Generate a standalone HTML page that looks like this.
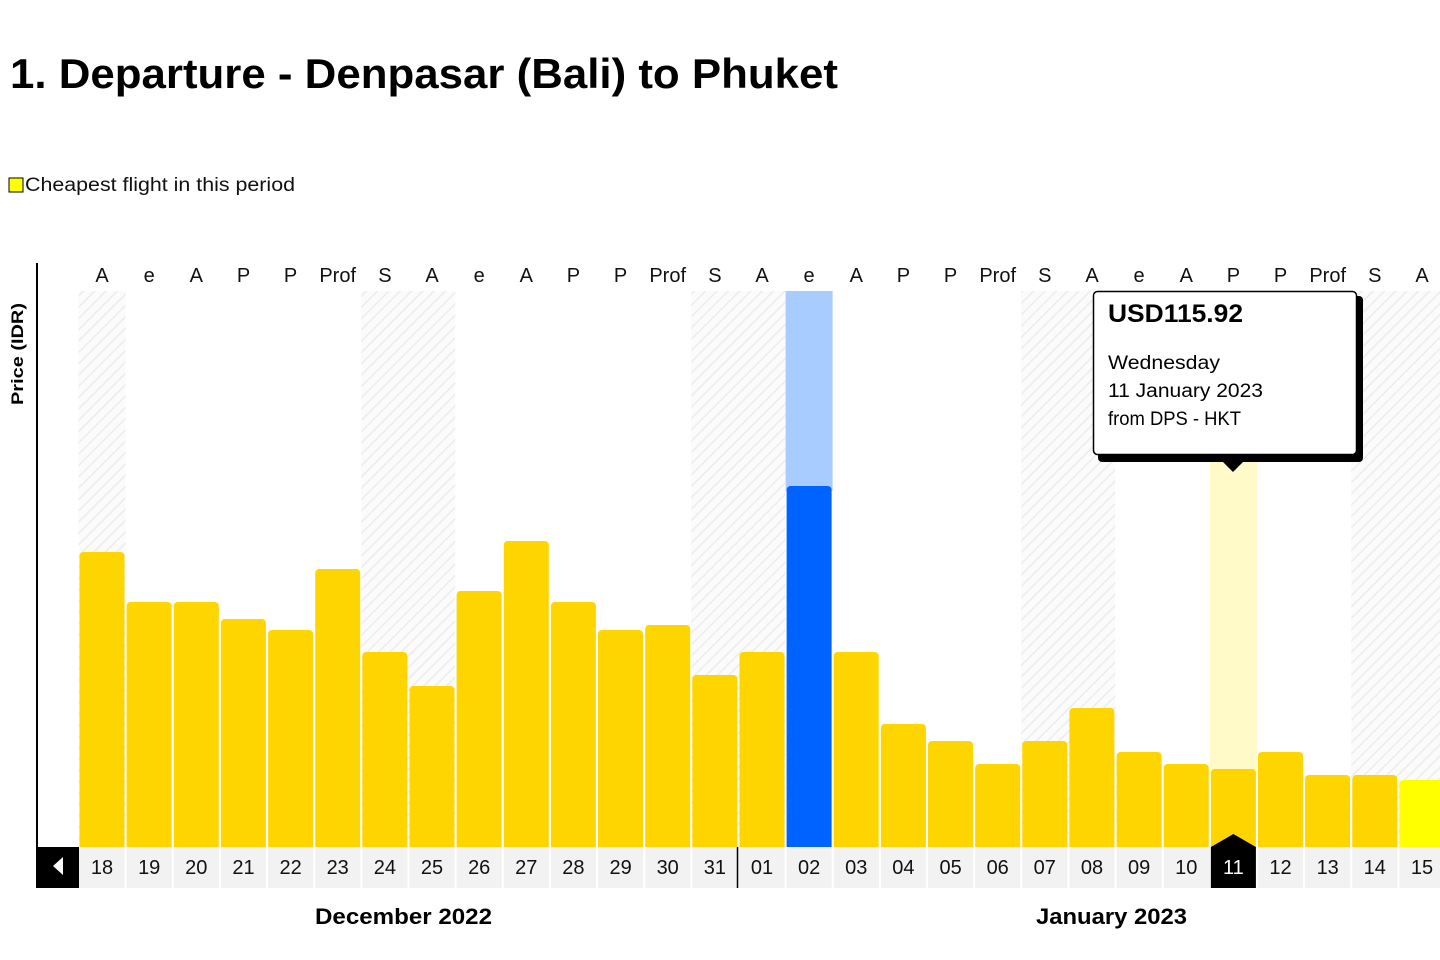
<!DOCTYPE html>
<html><head><meta charset="utf-8"><style>
html,body{margin:0;padding:0;background:#fff;width:1440px;height:960px;overflow:hidden}
svg{display:block;font-family:"Liberation Sans",sans-serif}
</style></head><body>
<svg width="1440" height="960" xmlns="http://www.w3.org/2000/svg">
<defs>
<pattern id="h" width="8" height="8" patternUnits="userSpaceOnUse" patternTransform="rotate(45)">
<rect width="8" height="8" fill="#fbfbfb"/><line x1="0" y1="0" x2="0" y2="8" stroke="#ececec" stroke-width="3"/></pattern>
</defs>
<text x="10" y="88" font-size="42" font-weight="bold" fill="#000" textLength="828" lengthAdjust="spacingAndGlyphs">1. Departure - Denpasar (Bali) to Phuket</text>
<rect x="9" y="178" width="14" height="14" fill="#ffff00" stroke="#000" stroke-width="1"/>
<text x="25" y="191" font-size="19" fill="#111" textLength="270" lengthAdjust="spacingAndGlyphs">Cheapest flight in this period</text>
<line x1="37" y1="263" x2="37" y2="888" stroke="#000" stroke-width="2"/>
<text transform="translate(23,354) rotate(-90)" font-size="17" font-weight="bold" text-anchor="middle" textLength="102" lengthAdjust="spacingAndGlyphs">Price (IDR)</text>
<!-- hatch -->
<rect x="78.5" y="291" width="47" height="556" fill="url(#h)"/>
<rect x="361.3" y="291" width="94" height="556" fill="url(#h)"/>
<rect x="691.3" y="291" width="94" height="556" fill="url(#h)"/>
<rect x="1021.3" y="291" width="94" height="556" fill="url(#h)"/>
<rect x="1351.3" y="291" width="89" height="556" fill="url(#h)"/>
<rect x="785.6" y="291" width="47" height="200" fill="#a8ccff"/>
<rect x="1209.9" y="460" width="47" height="315" fill="#fffac8"/>
<g fill="#ffd500">
<rect x="79.5" y="552" width="45" height="300" rx="4"/>
<rect x="126.6" y="602" width="45" height="250" rx="4"/>
<rect x="173.8" y="602" width="45" height="250" rx="4"/>
<rect x="220.9" y="619" width="45" height="233" rx="4"/>
<rect x="268.1" y="630" width="45" height="222" rx="4"/>
<rect x="315.2" y="569" width="45" height="283" rx="4"/>
<rect x="362.3" y="652" width="45" height="200" rx="4"/>
<rect x="409.5" y="686" width="45" height="166" rx="4"/>
<rect x="456.6" y="591" width="45" height="261" rx="4"/>
<rect x="503.8" y="541" width="45" height="311" rx="4"/>
<rect x="550.9" y="602" width="45" height="250" rx="4"/>
<rect x="598.0" y="630" width="45" height="222" rx="4"/>
<rect x="645.2" y="625" width="45" height="227" rx="4"/>
<rect x="692.3" y="675" width="45" height="177" rx="4"/>
<rect x="739.5" y="652" width="45" height="200" rx="4"/>
<rect x="833.7" y="652" width="45" height="200" rx="4"/>
<rect x="880.9" y="724" width="45" height="128" rx="4"/>
<rect x="928.0" y="741" width="45" height="111" rx="4"/>
<rect x="975.2" y="764" width="45" height="88" rx="4"/>
<rect x="1022.3" y="741" width="45" height="111" rx="4"/>
<rect x="1069.4" y="708" width="45" height="144" rx="4"/>
<rect x="1116.6" y="752" width="45" height="100" rx="4"/>
<rect x="1163.7" y="764" width="45" height="88" rx="4"/>
<rect x="1210.9" y="769" width="45" height="83" rx="4"/>
<rect x="1258.0" y="752" width="45" height="100" rx="4"/>
<rect x="1305.1" y="775" width="45" height="77" rx="4"/>
<rect x="1352.3" y="775" width="45" height="77" rx="4"/>
</g>
<rect x="1399.4" y="780" width="45" height="72" rx="4" fill="#ffff00"/>
<rect x="786.6" y="486" width="45" height="366" rx="4" fill="#0062ff"/>
<!-- date row -->
<rect x="79" y="847" width="1361" height="41" fill="#f2f2f2"/>
<g stroke="#fff" stroke-width="2">
<line x1="125.6" y1="847" x2="125.6" y2="888"/><line x1="172.8" y1="847" x2="172.8" y2="888"/><line x1="219.9" y1="847" x2="219.9" y2="888"/><line x1="267.1" y1="847" x2="267.1" y2="888"/><line x1="314.2" y1="847" x2="314.2" y2="888"/><line x1="361.3" y1="847" x2="361.3" y2="888"/><line x1="408.5" y1="847" x2="408.5" y2="888"/><line x1="455.6" y1="847" x2="455.6" y2="888"/><line x1="502.8" y1="847" x2="502.8" y2="888"/><line x1="549.9" y1="847" x2="549.9" y2="888"/><line x1="597" y1="847" x2="597" y2="888"/><line x1="644.2" y1="847" x2="644.2" y2="888"/><line x1="691.3" y1="847" x2="691.3" y2="888"/><line x1="785.6" y1="847" x2="785.6" y2="888"/><line x1="832.7" y1="847" x2="832.7" y2="888"/><line x1="879.9" y1="847" x2="879.9" y2="888"/><line x1="927" y1="847" x2="927" y2="888"/><line x1="974.2" y1="847" x2="974.2" y2="888"/><line x1="1021.3" y1="847" x2="1021.3" y2="888"/><line x1="1068.4" y1="847" x2="1068.4" y2="888"/><line x1="1115.6" y1="847" x2="1115.6" y2="888"/><line x1="1162.7" y1="847" x2="1162.7" y2="888"/><line x1="1257" y1="847" x2="1257" y2="888"/><line x1="1304.1" y1="847" x2="1304.1" y2="888"/><line x1="1351.3" y1="847" x2="1351.3" y2="888"/><line x1="1398.4" y1="847" x2="1398.4" y2="888"/>
</g>
<line x1="737.5" y1="847" x2="737.5" y2="888" stroke="#000" stroke-width="1.5"/>
<rect x="37" y="847" width="42" height="41" fill="#000"/>
<polygon points="53,866 63,857 63,875" fill="#fff"/>
<rect x="1210.9" y="847" width="45" height="41" fill="#000"/>
<polygon points="1210.9,847 1233.4,834 1255.9,847" fill="#000"/>
<g font-size="20" text-anchor="middle" fill="#111">
<text x="102" y="874">18</text><text x="149.2" y="874">19</text><text x="196.3" y="874">20</text><text x="243.5" y="874">21</text><text x="290.6" y="874">22</text><text x="337.7" y="874">23</text><text x="384.9" y="874">24</text><text x="432" y="874">25</text><text x="479.2" y="874">26</text><text x="526.3" y="874">27</text><text x="573.4" y="874">28</text><text x="620.6" y="874">29</text><text x="667.7" y="874">30</text><text x="714.9" y="874">31</text><text x="762" y="874">01</text><text x="809.1" y="874">02</text><text x="856.3" y="874">03</text><text x="903.4" y="874">04</text><text x="950.6" y="874">05</text><text x="997.7" y="874">06</text><text x="1044.8" y="874">07</text><text x="1092" y="874">08</text><text x="1139.1" y="874">09</text><text x="1186.3" y="874">10</text><text x="1233.4" y="874" fill="#fff">11</text><text x="1280.5" y="874">12</text><text x="1327.7" y="874">13</text><text x="1374.8" y="874">14</text><text x="1422" y="874">15</text>
</g>
<g font-size="20" text-anchor="middle" fill="#111">
<text x="102" y="282">A</text><text x="149.2" y="282">e</text><text x="196.3" y="282">A</text><text x="243.5" y="282">P</text><text x="290.6" y="282">P</text><text x="337.7" y="282">Prof</text><text x="384.9" y="282">S</text><text x="432" y="282">A</text><text x="479.2" y="282">e</text><text x="526.3" y="282">A</text><text x="573.4" y="282">P</text><text x="620.6" y="282">P</text><text x="667.7" y="282">Prof</text><text x="714.9" y="282">S</text><text x="762" y="282">A</text><text x="809.1" y="282">e</text><text x="856.3" y="282">A</text><text x="903.4" y="282">P</text><text x="950.6" y="282">P</text><text x="997.7" y="282">Prof</text><text x="1044.8" y="282">S</text><text x="1092" y="282">A</text><text x="1139.1" y="282">e</text><text x="1186.3" y="282">A</text><text x="1233.4" y="282">P</text><text x="1280.5" y="282">P</text><text x="1327.7" y="282">Prof</text><text x="1374.8" y="282">S</text><text x="1422" y="282">A</text>
</g>
<text x="315" y="924" font-size="22" font-weight="bold" textLength="177" lengthAdjust="spacingAndGlyphs">December 2022</text>
<text x="1036" y="924" font-size="22" font-weight="bold" textLength="151" lengthAdjust="spacingAndGlyphs">January 2023</text>
<!-- tooltip -->
<rect x="1098" y="296" width="265" height="166" rx="4" fill="#000"/>
<polygon points="1221,460 1233,472 1245,460" fill="#000"/>
<rect x="1093.5" y="291.5" width="263" height="163" rx="4" fill="#fff" stroke="#000" stroke-width="1.5"/>
<text x="1108" y="322" font-size="25" font-weight="bold" textLength="135" lengthAdjust="spacingAndGlyphs">USD115.92</text>
<text x="1108" y="369" font-size="19" textLength="112" lengthAdjust="spacingAndGlyphs">Wednesday</text>
<text x="1108" y="397" font-size="19" textLength="155" lengthAdjust="spacingAndGlyphs">11 January 2023</text>
<text x="1108" y="425" font-size="19" textLength="133" lengthAdjust="spacingAndGlyphs">from DPS - HKT</text>
</svg>
</body></html>
